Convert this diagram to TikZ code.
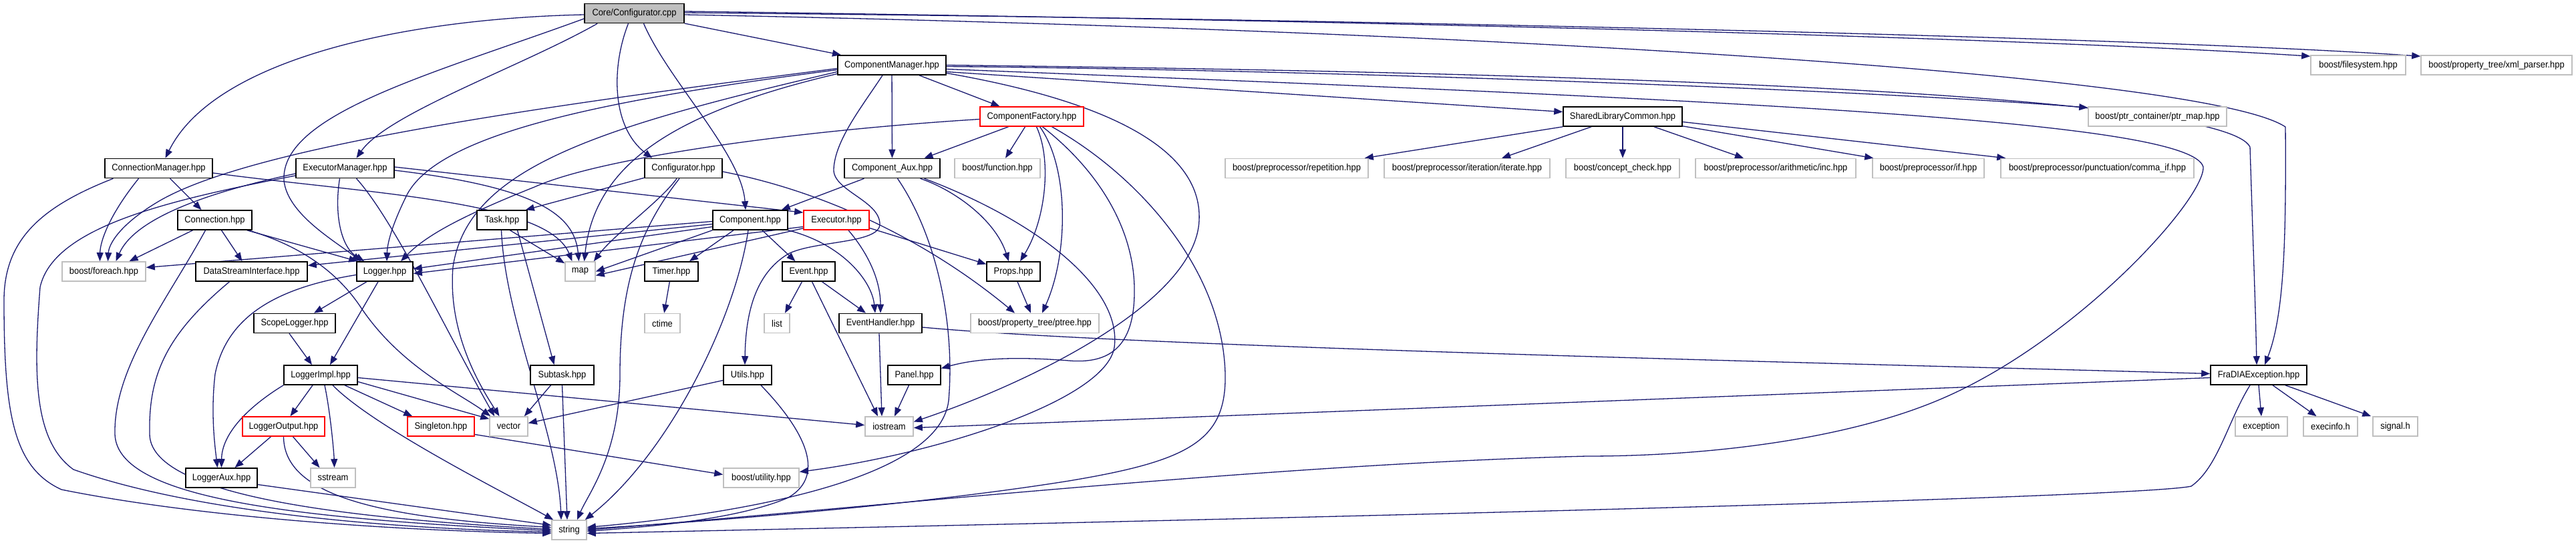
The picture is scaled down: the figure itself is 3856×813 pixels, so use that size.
\documentclass[tikz,border=0pt]{standalone}
\usepackage{fontspec}
\setmainfont{Liberation Sans}[FakeStretch=0.92]
\usetikzlibrary{arrows.meta}
\definecolor{edgec}{HTML}{191970}
\definecolor{gbord}{HTML}{BFBFBF}
\definecolor{rootfill}{HTML}{BFBFBF}
\definecolor{truncred}{HTML}{FF0000}
\pgfdeclarelayer{bg}
\pgfsetlayers{bg,main}
\begin{document}
\begin{tikzpicture}[x=1pt,y=-1pt,
  box/.style={draw, line width=1.6pt, fill=white, minimum height=29pt, inner sep=0pt, font=\fontsize{14}{16}\selectfont, text=black},
  doc/.style={box, draw=black},
  ext/.style={box, draw=gbord},
  trunc/.style={box, draw=truncred},
  root/.style={box, draw=black, fill=rootfill},
  edg/.style={draw=edgec, line width=1.3pt, -{Triangle[length=13pt,width=10pt]}}
]
\useasboundingbox (0,0) rectangle (3856,813);
% ---------------- nodes
\node[root, minimum width=149pt] (root) at (949.5,20) {Core/Configurator.cpp};
\node[doc, minimum width=162pt] (cm) at (1335,97.5) {ComponentManager.hpp};
\node[ext, minimum width=142pt] (fs) at (3530,97.5) {boost/filesystem.hpp};
\node[ext, minimum width=226pt] (xml) at (3737,97.5) {boost/property\_tree/xml\_parser.hpp};
\node[trunc, minimum width=155pt] (cf) at (1544.5,174.5) {ComponentFactory.hpp};
\node[doc, minimum width=178pt] (slc) at (2429,174.5) {SharedLibraryCommon.hpp};
\node[ext, minimum width=207pt] (ptrmap) at (3229.5,174.5) {boost/ptr\_container/ptr\_map.hpp};
\node[doc, minimum width=161pt] (connm) at (237.5,252) {ConnectionManager.hpp};
\node[doc, minimum width=147pt] (execm) at (516.5,252) {ExecutorManager.hpp};
\node[doc, minimum width=116pt] (cfg) at (1023,252) {Configurator.hpp};
\node[doc, minimum width=143pt] (caux) at (1335.5,252) {Component\_Aux.hpp};
\node[ext, minimum width=128pt] (bfunc) at (1493,252) {boost/function.hpp};
\node[ext, minimum width=214pt] (rep) at (1941,252) {boost/preprocessor/repetition.hpp};
\node[ext, minimum width=248pt] (iter) at (2196,252) {boost/preprocessor/iteration/iterate.hpp};
\node[ext, minimum width=170pt] (concept) at (2429,252) {boost/concept\_check.hpp};
\node[ext, minimum width=240pt] (inc) at (2658,252) {boost/preprocessor/arithmetic/inc.hpp};
\node[ext, minimum width=167pt] (ppif) at (2886.5,252) {boost/preprocessor/if.hpp};
\node[ext, minimum width=289pt] (comma) at (3139.5,252) {boost/preprocessor/punctuation/comma\_if.hpp};
\node[doc, minimum width=111pt] (conn) at (321.5,329.5) {Connection.hpp};
\node[doc, minimum width=75pt] (task) at (751.5,329.5) {Task.hpp};
\node[doc, minimum width=112pt] (comp) at (1123,329.5) {Component.hpp};
\node[trunc, minimum width=98pt] (exec) at (1252,329.5) {Executor.hpp};
\node[ext, minimum width=125pt] (foreach) at (155.5,406.5) {boost/foreach.hpp};
\node[doc, minimum width=167pt] (dsi) at (376.5,406.5) {DataStreamInterface.hpp};
\node[doc, minimum width=84pt] (logger) at (576,406.5) {Logger.hpp};
\node[ext, minimum width=45pt] (map) at (868.5,406.5) {map};
\node[doc, minimum width=80pt] (timer) at (1005,406.5) {Timer.hpp};
\node[doc, minimum width=79pt] (event) at (1210.5,406.5) {Event.hpp};
\node[doc, minimum width=80pt] (props) at (1517,406.5) {Props.hpp};
\node[doc, minimum width=122pt] (scopel) at (441,484) {ScopeLogger.hpp};
\node[ext, minimum width=53pt] (ctime) at (991.5,484) {ctime};
\node[ext, minimum width=38pt] (list) at (1163,484) {list};
\node[doc, minimum width=124pt] (eh) at (1318,484) {EventHandler.hpp};
\node[ext, minimum width=192pt] (ptree) at (1549,484) {boost/property\_tree/ptree.hpp};
\node[doc, minimum width=110pt] (limpl) at (480,561.5) {LoggerImpl.hpp};
\node[doc, minimum width=95pt] (subtask) at (841.5,561.5) {Subtask.hpp};
\node[doc, minimum width=72pt] (utils) at (1119,561.5) {Utils.hpp};
\node[doc, minimum width=79pt] (panel) at (1368.5,561.5) {Panel.hpp};
\node[doc, minimum width=144pt] (fradia) at (3381,561.5) {FraDIAException.hpp};
\node[trunc, minimum width=123pt] (lout) at (424.5,638.5) {LoggerOutput.hpp};
\node[trunc, minimum width=100pt] (singleton) at (660,638.5) {Singleton.hpp};
\node[ext, minimum width=57pt] (vector) at (761.5,638.5) {vector};
\node[ext, minimum width=72pt] (iostream) at (1331,638.5) {iostream};
\node[ext, minimum width=78pt] (exception) at (3385,638.5) {exception};
\node[ext, minimum width=81pt] (execinfo) at (3488.5,638.5) {execinfo.h};
\node[ext, minimum width=67pt] (signal) at (3585.5,638.5) {signal.h};
\node[doc, minimum width=107pt] (laux) at (331.5,715.5) {LoggerAux.hpp};
\node[ext, minimum width=67pt] (sstream) at (498.5,715.5) {sstream};
\node[ext, minimum width=113pt] (butil) at (1139.5,715.5) {boost/utility.hpp};
\node[ext, minimum width=52pt] (string) at (852,793.5) {string};
% ---------------- edges
\begin{pgfonlayer}{bg}
\fill[white] (0,0) rectangle (3856,813);
% Core/Configurator.cpp
\draw[edg] ([yshift=-2pt]root.west) .. controls (600,28) and (320,90) .. ([xshift=10pt]connm.north);
\draw[edg] ([xshift=20pt]root.south west) .. controls (780,100) and (580,170) .. ([xshift=17pt]execm.north);
\draw[edg] ([yshift=-8pt]root.west) .. controls (650,110) and (420,170) .. (425,270) .. controls (430,320) and (500,360) .. ([xshift=7pt]logger.north west);
\draw[edg] ([xshift=-9pt]root.south) .. controls (915,100) and (915,190) .. ([xshift=12pt]cfg.north west);
\draw[edg] ([xshift=14pt]root.south) .. controls (1000,120) and (1110,230) .. ([xshift=-7pt]comp.north);
\draw[edg] (root) -- (cm);
\draw[edg] ([yshift=3pt]root.east) .. controls (2000,30) and (3000,55) .. ([yshift=-2pt]fs.north west);
\draw[edg] ([yshift=1pt]root.east) .. controls (2000,28) and (3200,55) .. ([yshift=-2pt]xml.north west);
\draw[edg] ([yshift=-2pt]root.east) .. controls (2200,45) and (3300,110) .. (3421,190) .. controls (3422,350) and (3420,470) .. ([xshift=9pt]fradia.north);
% ComponentManager
\draw[edg] ([yshift=-10pt]cm.east) -- ([yshift=7pt]slc.west);
\draw[edg] ([yshift=-2pt]cm.east) .. controls (2000,105) and (2800,135) .. ([yshift=-2pt]ptrmap.north west);
\draw[edg] ([yshift=0pt]cm.east) .. controls (2500,110) and (3330,145) .. (3368,220) .. controls (3372,350) and (3376,450) .. ([xshift=-3pt]fradia.north);
\draw[edg] ([yshift=-6pt]cm.east) .. controls (2600,150) and (3280,180) .. (3298,250) .. controls (3300,300) and (3100,520) .. (2892,603) .. controls (2750,660) and (2550,683) .. (2375,683) .. controls (1900,695) and (1300,760) .. ([yshift=0pt]string.east);
\draw[edg] ([xshift=41pt]cm.south) -- ([xshift=-48pt]cf.north);
\draw[edg] (cm) -- (caux);
\draw[edg] ([xshift=-14pt]cm.south) .. controls (1290,160) and (1250,210) .. (1248,253) .. controls (1246,285) and (1316,300) .. (1317,335) .. controls (1318,365) and (1220,360) .. (1180,380) .. controls (1130,410) and (1116,470) .. ([xshift=-4pt]utils.north);
\draw[edg] ([yshift=-5pt]cm.west) .. controls (800,160) and (380,220) .. (240,300) .. controls (180,335) and (163,365) .. ([xshift=6pt]foreach.north);
\draw[edg] ([yshift=-7pt]cm.west) .. controls (900,150) and (660,200) .. (610,290) .. controls (590,330) and (580,360) .. ([xshift=3pt]logger.north);
\draw[edg] ([yshift=-10pt]cm.west) .. controls (900,190) and (700,250) .. (678,400) .. controls (670,500) and (720,580) .. ([xshift=-14pt]vector.north);
\draw[edg] ([yshift=-13pt]cm.west) .. controls (1000,170) and (890,250) .. ([xshift=6pt]map.north);
\draw[edg] ([yshift=-12pt]cm.east) .. controls (1650,150) and (1800,220) .. (1795,330) .. controls (1790,450) and (1550,570) .. ([yshift=7pt]iostream.east);
% ComponentFactory
\draw[edg] ([yshift=-4pt]cf.west) .. controls (1200,195) and (900,235) .. (800,280) .. controls (700,320) and (640,350) .. ([xshift=24pt]logger.north);
\draw[edg] ([xshift=-35pt]cf.south) -- ([xshift=48pt]caux.north);
\draw[edg] ([xshift=-10pt]cf.south) -- ([xshift=12pt]bfunc.north);
\draw[edg] ([xshift=7pt]cf.south) .. controls (1575,240) and (1565,330) .. ([xshift=10pt]props.north);
\draw[edg] ([xshift=12pt]cf.south) .. controls (1600,250) and (1600,380) .. ([xshift=11pt]ptree.north);
\draw[edg] ([xshift=16pt]cf.south) .. controls (1650,260) and (1700,350) .. (1698,440) .. controls (1697,520) and (1660,545) .. (1600,540) .. controls (1500,532) and (1450,540) .. ([yshift=10pt]panel.east);
\draw[edg] ([xshift=30pt]cf.south) .. controls (1700,260) and (1830,400) .. (1834,560) .. controls (1836,660) and (1780,690) .. (1600,720) .. controls (1350,760) and (1000,785) .. ([yshift=2pt]string.east);
% Component_Aux
\draw[edg] ([xshift=-42pt]caux.south) -- ([xshift=-10pt]comp.north east);
\draw[edg] ([xshift=42pt]caux.south) .. controls (1430,285) and (1490,330) .. ([xshift=-7pt]props.north);
\draw[edg] ([xshift=8pt]caux.south) .. controls (1400,350) and (1430,480) .. (1420,600) .. controls (1405,720) and (1100,770) .. ([yshift=4pt]string.east);
\draw[edg] ([xshift=48pt]caux.south) .. controls (1550,330) and (1680,430) .. (1668,520) .. controls (1655,600) and (1400,680) .. ([yshift=9pt]butil.east);
% Configurator.hpp
\draw[edg] ([yshift=1pt]cfg.south west) -- ([xshift=-3pt]task.north east);
\draw[edg] ([xshift=-10pt]cfg.south) .. controls (990,300) and (920,350) .. ([xshift=-3pt]map.north east);
\draw[edg] ([xshift=-6pt]cfg.south) .. controls (960,340) and (928,420) .. (928,560) .. controls (928,680) and (880,740) .. ([xshift=12pt]string.north);
\draw[edg] ([yshift=-5pt]cfg.east) .. controls (1250,290) and (1400,370) .. ([xshift=-30pt]ptree.north);
% ConnectionManager
\draw[edg] ([xshift=-30pt]connm.south) .. controls (165,320) and (150,360) .. ([xshift=-6pt]foreach.north);
\draw[edg] ([xshift=17pt]connm.south) -- ([xshift=-20pt]conn.north);
\draw[edg] ([yshift=-7pt]connm.east) .. controls (550,290) and (820,300) .. ([xshift=-12pt]map.north);
\draw[edg] ([xshift=-68pt]connm.south) .. controls (60,310) and (6,360) .. (6,450) .. controls (6,620) and (20,700) .. (92,733) .. controls (300,775) and (600,795) .. ([yshift=-5pt]string.west);
% ExecutorManager
\draw[edg] ([yshift=-8pt]execm.west) .. controls (300,290) and (200,330) .. ([xshift=18pt]foreach.north);
\draw[edg] ([yshift=-11pt]execm.west) .. controls (250,300) and (80,340) .. (60,430) .. controls (50,560) and (50,660) .. (110,703) .. controls (300,770) and (600,792) .. ([yshift=-3pt]string.west);
\draw[edg] ([xshift=-8pt]execm.south) .. controls (500,320) and (510,370) .. ([xshift=12pt]logger.north west);
\draw[edg] ([xshift=17pt]execm.south) .. controls (590,330) and (670,500) .. ([xshift=8pt]vector.north west);
\draw[edg] ([yshift=-3pt]execm.east) .. controls (800,280) and (860,320) .. ([xshift=-2pt]map.north);
\draw[edg] ([yshift=2pt]execm.east) -- ([yshift=-4pt]exec.north west);
% Connection
\draw[edg] ([xshift=-33pt]conn.south) -- ([xshift=38pt]foreach.north);
\draw[edg] ([xshift=10pt]conn.south) -- ([xshift=-14pt]dsi.north);
\draw[edg] ([xshift=-8pt]conn.south east) -- ([xshift=2pt]logger.north west);
\draw[edg] ([xshift=-6pt]conn.south east) .. controls (440,365) and (500,400) .. (540,460) .. controls (600,550) and (690,590) .. ([xshift=2pt]vector.north west);
\draw[edg] ([xshift=-14pt]conn.south) .. controls (250,450) and (170,550) .. (172,650) .. controls (175,740) and (400,775) .. ([yshift=-1pt]string.west);
% DataStreamInterface
\draw[edg] ([xshift=-33pt]dsi.south) .. controls (250,500) and (222,560) .. (224,650) .. controls (225,740) and (500,775) .. ([yshift=1pt]string.west);
% Logger
\draw[edg] ([xshift=-27pt]logger.south) -- ([xshift=29pt]scopel.north);
\draw[edg] ([xshift=-10pt]logger.south) -- ([xshift=14pt]limpl.north);
\draw[edg] ([yshift=-5pt]logger.west) .. controls (420,430) and (340,470) .. (322,560) .. controls (315,620) and (322,670) .. ([xshift=-6pt]laux.north);
\draw[edg] ([xshift=-8pt]scopel.south) -- ([xshift=-13pt]limpl.north);
% LoggerImpl
\draw[edg] ([xshift=-12pt]limpl.south) -- ([xshift=10pt]lout.north);
\draw[edg] ([xshift=6pt]limpl.south) .. controls (495,620) and (500,680) .. ([xshift=2pt]sstream.north);
\draw[edg] ([xshift=18pt]limpl.south) .. controls (560,640) and (760,740) .. ([xshift=3pt]string.north west);
\draw[edg] ([xshift=36pt]limpl.south) -- ([xshift=8pt]singleton.north west);
\draw[edg] ([yshift=-10pt]limpl.east) -- ([yshift=-4pt]vector.north west);
\draw[edg] (limpl.south west) .. controls (370,610) and (332,650) .. (laux.north);
\draw[edg] ([yshift=-4pt]limpl.east) -- ([yshift=2pt]iostream.west);
% LoggerOutput
\draw[edg] ([xshift=-19pt]lout.south) -- ([xshift=20pt]laux.north);
\draw[edg] ([xshift=14pt]lout.south) -- ([xshift=-20pt]sstream.north);
\draw[edg] (lout.south) .. controls (425,740) and (560,775) .. ([yshift=4pt]string.west);
\draw[edg] ([yshift=-10pt]laux.east) -- ([yshift=7pt]string.west);
\draw[edg] ([yshift=-12pt]singleton.east) -- ([yshift=5pt]butil.west);
% Subtask, Task
\draw[edg] ([xshift=-17pt]subtask.south) -- ([xshift=-6pt]vector.north east);
\draw[edg] (subtask.south) -- ([xshift=-3pt]string.north);
\draw[edg] ([xshift=12pt]task.south) -- ([yshift=-3pt]map.north west);
\draw[edg] ([xshift=23pt]task.south) -- ([xshift=-12pt]subtask.north);
\draw[edg] ([xshift=-1pt]task.south) .. controls (756,480) and (835,650) .. ([xshift=-12pt]string.north);
% Utils
\draw[edg] ([yshift=-8pt]utils.west) -- ([yshift=5pt]vector.east);
\draw[edg] ([xshift=20pt]utils.south) .. controls (1200,640) and (1240,710) .. (1180,745) .. controls (1100,780) and (950,790) .. ([yshift=-2pt]string.east);
% Timer, Event, EventHandler, Panel, Props
\draw[edg] (timer) -- (ctime);
\draw[edg] ([xshift=-10pt]event.south) -- ([xshift=12pt]list.north);
\draw[edg] ([xshift=20pt]event.south) -- ([xshift=-22pt]eh.north);
\draw[edg] ([xshift=5pt]event.south) -- ([xshift=-17pt]iostream.north);
\draw[edg] ([xshift=-2pt]eh.south) -- ([xshift=-11pt]iostream.north);
\draw[edg] ([yshift=-6pt]eh.east) .. controls (1700,520) and (2800,545) .. ([yshift=2pt]fradia.west);
\draw[edg] ([xshift=-8pt]panel.south) -- ([xshift=8pt]iostream.north);
\draw[edg] ([xshift=6pt]props.south) -- ([xshift=-6pt]ptree.north);
% Component
\draw[edg] ([yshift=-2pt]comp.west) -- ([yshift=6pt]foreach.east);
\draw[edg] ([yshift=-6pt]comp.west) -- ([yshift=9pt]dsi.east);
\draw[edg] ([yshift=-10pt]comp.west) -- ([yshift=4pt]logger.east);
\draw[edg] (comp.south west) -- (map.east);
\draw[edg] ([xshift=-25pt]comp.south) -- ([xshift=27pt]timer.north);
\draw[edg] ([xshift=18pt]comp.south) -- ([xshift=-20pt]event.north);
\draw[edg] (comp.south east) .. controls (1260,365) and (1305,420) .. ([xshift=-8pt]eh.north);
\draw[edg] ([xshift=-3pt]comp.south) .. controls (1100,480) and (1000,680) .. ([xshift=-3pt]string.north east);
% Executor
\draw[edg] ([yshift=-10pt]exec.west) -- ([yshift=-3pt]logger.east);
\draw[edg] ([yshift=3pt]exec.south west) -- ([yshift=-6pt]map.east);
\draw[edg] ([xshift=18pt]exec.south) .. controls (1300,380) and (1318,420) .. (eh.north);
\draw[edg] ([yshift=-12pt]exec.east) -- ([yshift=11pt]props.west);
% SharedLibraryCommon
\draw[edg] (slc.south west) -- ([xshift=-6pt]rep.north east);
\draw[edg] ([xshift=43pt]slc.south west) -- ([xshift=52pt]iter.north);
\draw[edg] (slc) -- (concept);
\draw[edg] ([xshift=-43pt]slc.south east) -- ([xshift=-48pt]inc.north);
\draw[edg] ([yshift=1pt]slc.south east) -- ([xshift=2pt]ppif.north west);
\draw[edg] ([yshift=-8pt]slc.east) -- ([xshift=8pt]comma.north west);
% FraDIAException
\draw[edg] (fradia.south) -- (exception.north);
\draw[edg] ([xshift=21pt]fradia.south) -- ([xshift=-21pt]execinfo.north);
\draw[edg] ([xshift=-33pt]fradia.south east) -- ([xshift=-2pt]signal.north west);
\draw[edg] ([yshift=-4pt]fradia.west) -- ([yshift=-2pt]iostream.east);
\draw[edg] ([xshift=-13pt]fradia.south) .. controls (3335,630) and (3320,700) .. (3280,728) .. controls (3200,745) and (2000,775) .. ([yshift=-5pt]string.east);
\end{pgfonlayer}
\end{tikzpicture}
\end{document}
